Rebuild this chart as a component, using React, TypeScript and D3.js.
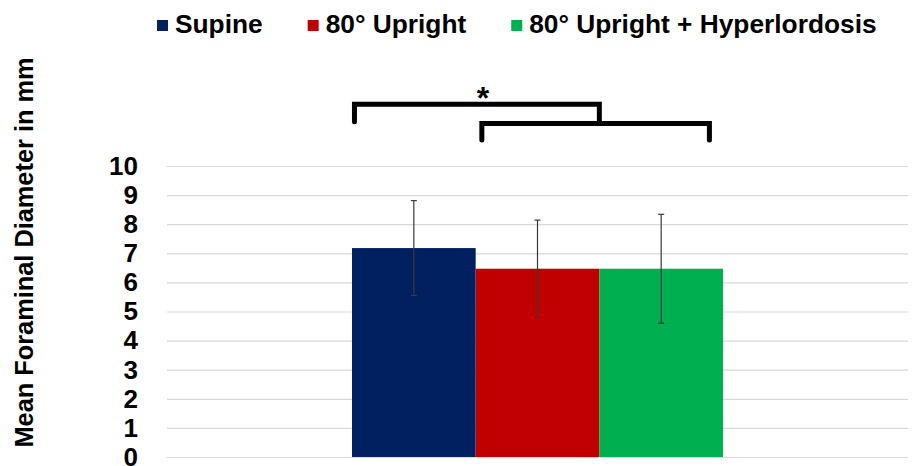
import React, { useEffect, useRef } from 'react';
import * as d3 from 'd3';

const categories = ["All levels"];
const series = ["Supine", "80° Upright", "80° Upright + Hyperlordosis"];
const means = [7.18, 6.47, 6.47];
const sds = [1.63, 1.67, 1.87];
const colors = ["#002060", "#C00000", "#00B050"];
const yTicks = [0, 1, 2, 3, 4, 5, 6, 7, 8, 9, 10];

// significance brackets, x in bar units from the group's left edge, y in mm
const brackets = [
  { x0: 0.02, x1: 2.0, top: 12.12, leftEnd: 11.52, rightEnd: 11.46 },
  { x0: 1.05, x1: 2.89, top: 11.46, leftEnd: 10.89, rightEnd: 10.89 },
];
const starPos = { x: 1.06, y: 12.55 };

const FONT = '"Liberation Sans", Arial, sans-serif';

const App: React.FC = () => {
  const svgRef = useRef<SVGSVGElement>(null);

  useEffect(() => {
    if (!svgRef.current) return;
    const width = 912;
    const height = 466;
    const plot = { left: 167, right: 908, top: 166, bottom: 457 };

    const svg = d3.select(svgRef.current);
    svg.selectAll("*").remove();

    const y = d3.scaleLinear().domain([0, 10]).range([plot.bottom, plot.top]);
    const x = d3.scaleBand().domain(categories).range([plot.left, plot.right])
      .paddingOuter(0.4986).paddingInner(0);
    const x0 = x(categories[0])!;
    const xs = d3.scaleBand().domain(series).range([x0, x0 + x.bandwidth()]).padding(0);
    const pos = d3.scaleLinear().domain([0, series.length]).range([x0, x0 + x.bandwidth()]);

    // Grid lines
    svg.append("g")
      .attr("transform", `translate(${plot.left},0)`)
      .call(d3.axisLeft(y).tickValues(yTicks).tickSize(-(plot.right - plot.left)).tickFormat(() => ""))
      .call(g => g.select(".domain").remove())
      .selectAll("line")
      .attr("stroke", "#d9d9d9")
      .attr("stroke-width", 1.2);

    // Y axis labels
    svg.append("g")
      .attr("transform", `translate(${plot.left},0)`)
      .call(d3.axisLeft(y).tickValues(yTicks).tickSize(0).tickPadding(29).tickFormat(d3.format("d")))
      .call(g => g.select(".domain").remove())
      .selectAll("text")
      .attr("fill", "#000")
      .style("font-family", FONT)
      .style("font-weight", "bold")
      .style("font-size", "26px");

    // Y title
    svg.append("text")
      .attr("transform", `translate(33,${(57 + 448) / 2}) rotate(-90)`)
      .attr("text-anchor", "middle")
      .attr("textLength", 390)
      .attr("lengthAdjust", "spacingAndGlyphs")
      .style("font-family", FONT)
      .style("font-weight", "bold")
      .style("font-size", "26.5px")
      .attr("fill", "#000")
      .text("Mean Foraminal Diameter in mm");

    // Bars
    svg.selectAll(".bar")
      .data(series)
      .enter().append("rect")
      .attr("class", "bar")
      .attr("x", d => xs(d)!)
      .attr("width", xs.bandwidth())
      .attr("y", (d, i) => y(means[i]))
      .attr("height", (d, i) => y(0) - y(means[i]))
      .attr("fill", (d, i) => colors[i]);

    // Error bars
    const capW = 3;
    const err = svg.append("g").attr("stroke", "#3a3a3a").attr("stroke-width", 1.2);
    series.forEach((s, i) => {
      const cx = xs(s)! + xs.bandwidth() / 2;
      const hi = y(means[i] + sds[i]);
      const lo = y(means[i] - sds[i]);
      err.append("line").attr("x1", cx).attr("x2", cx).attr("y1", hi).attr("y2", lo);
      err.append("line").attr("x1", cx - capW).attr("x2", cx + capW).attr("y1", hi).attr("y2", hi);
      err.append("line").attr("x1", cx - capW).attr("x2", cx + capW).attr("y1", lo).attr("y2", lo);
    });

    // Brackets
    const br = svg.append("g")
      .attr("fill", "none")
      .attr("stroke", "#000")
      .attr("stroke-width", 5)
      .attr("stroke-linecap", "round")
      .attr("stroke-linejoin", "miter");
    brackets.forEach(b => {
      const path = d3.path();
      path.moveTo(pos(b.x0), y(b.leftEnd));
      path.lineTo(pos(b.x0), y(b.top));
      path.lineTo(pos(b.x1), y(b.top));
      path.lineTo(pos(b.x1), y(b.rightEnd));
      br.append("path").attr("d", path.toString());
    });

    svg.append("text")
      .attr("x", pos(starPos.x))
      .attr("y", y(starPos.y) + 17)
      .attr("text-anchor", "middle")
      .style("font-family", FONT)
      .style("font-weight", "bold")
      .style("font-size", "32px")
      .attr("fill", "#000")
      .text("*");

    // Legend
    const legend = svg.append("g");
    let lx = 157;
    series.forEach((s, i) => {
      legend.append("rect")
        .attr("x", lx).attr("y", 20)
        .attr("width", 11).attr("height", 11)
        .attr("fill", colors[i]);
      const t = legend.append("text")
        .attr("x", lx + 18)
        .attr("y", 33)
        .style("font-family", FONT)
        .style("font-weight", "bold")
        .style("font-size", "26.3px")
        .attr("fill", "#000")
        .text(s);
      const w = (t.node() as SVGTextElement).getComputedTextLength();
      lx += 18 + w + 45;
    });

    svg.attr("width", width).attr("height", height);
  }, []);

  return (
    <div style={{ position: "fixed", left: 0, top: 0, width: 912, height: 466, background: "#fff" }}>
      <svg ref={svgRef} width={912} height={466} style={{ display: "block" }}></svg>
    </div>
  );
};

export default App;
